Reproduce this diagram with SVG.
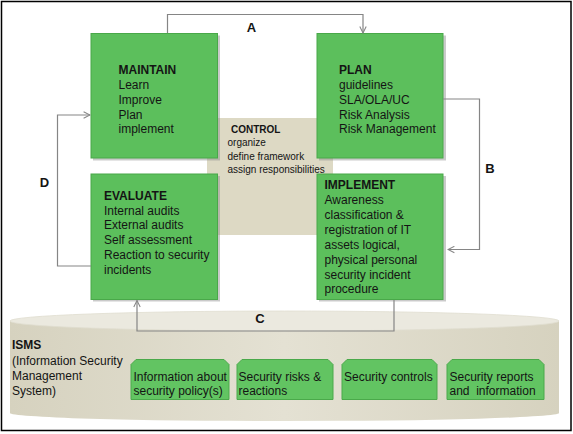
<svg xmlns="http://www.w3.org/2000/svg" width="573" height="434" viewBox="0 0 573 434">
<defs>
<style>
.t{font-family:"Liberation Sans",Arial,sans-serif;font-size:12px;fill:#141414}
.b{font-weight:bold}
.sm{font-size:10px}
.lbl{font-family:"Liberation Sans",Arial,sans-serif;font-size:13px;font-weight:bold;fill:#141414;text-anchor:middle}
.box{fill:#5cbf5c;stroke:#49a849;stroke-width:1}
.shadow{fill:#8a8a8a;opacity:0.45}
.sbox{fill:#62c462;stroke:#4aa94a;stroke-width:1}
.conn{fill:none;stroke:#858585;stroke-width:1.2}
</style>
<marker id="arr" viewBox="0 0 10 10" refX="9" refY="5" markerWidth="8" markerHeight="8" orient="auto" markerUnits="userSpaceOnUse">
<path d="M1,1 L9,5 L1,9" fill="none" stroke="#858585" stroke-width="1.3"/>
</marker>
<linearGradient id="cyl" x1="0" y1="0" x2="1" y2="0">
<stop offset="0" stop-color="#d6d2bf"/>
<stop offset="0.5" stop-color="#e4e1d3"/>
<stop offset="1" stop-color="#d6d2bf"/>
</linearGradient>
</defs>
<rect x="0" y="0" width="573" height="434" fill="#ffffff"/>
<rect x="1.5" y="1.5" width="569.5" height="429" fill="none" stroke="#000" stroke-width="1.5"/>

<g id="isms">
<path d="M10,321 V413 A274.5,8 0 0 0 559,413 V321 Z" fill="url(#cyl)"/>
<ellipse cx="284.5" cy="321" rx="274.5" ry="10" fill="#ebe9df" stroke="#e0ddcf" stroke-width="0.8"/>
<text class="t" x="12" y="349"><tspan class="b">ISMS</tspan></text>
<text class="t" x="12" y="365">(Information Security</text>
<text class="t" x="12" y="380">Management</text>
<text class="t" x="12" y="395">System)</text>
</g>

<g id="control">
<rect x="207" y="118" width="126" height="117" fill="#ddd9c4"/>
<text class="t sm b" x="231" y="132.5">CONTROL</text>
<text class="t sm" x="227.5" y="146">organize</text>
<text class="t sm" x="227.5" y="159.5">define framework</text>
<text class="t sm" x="227.5" y="172.5">assign responsibilities</text>
</g>

<g id="maintain">
<rect class="shadow" x="93" y="35.5" width="127" height="125"/>
<rect class="box" x="91" y="33.5" width="126.5" height="124.5"/>
<text class="t b" x="118.5" y="74">MAINTAIN</text>
<text class="t" x="118.5" y="89">Learn</text>
<text class="t" x="118.5" y="104">Improve</text>
<text class="t" x="118.5" y="118.5">Plan</text>
<text class="t" x="118.5" y="133">implement</text>
</g>

<g id="plan">
<rect class="shadow" x="319" y="35.5" width="127" height="125"/>
<rect class="box" x="317" y="33.5" width="126" height="124.5"/>
<text class="t b" x="339" y="74">PLAN</text>
<text class="t" x="339" y="89">guidelines</text>
<text class="t" x="339" y="104">SLA/OLA/UC</text>
<text class="t" x="339" y="118.5">Risk Analysis</text>
<text class="t" x="339" y="133">Risk Management</text>
</g>

<g id="evaluate">
<rect class="shadow" x="93" y="176" width="127" height="125.5"/>
<rect class="box" x="91" y="174" width="126.5" height="125.5"/>
<text class="t b" x="104" y="199.5">EVALUATE</text>
<text class="t" x="104" y="214.5">Internal audits</text>
<text class="t" x="104" y="229">External audits</text>
<text class="t" x="104" y="244">Self assessment</text>
<text class="t" x="104" y="259">Reaction to security</text>
<text class="t" x="104" y="274">incidents</text>
</g>

<g id="implement">
<rect class="shadow" x="319" y="176" width="127" height="125.5"/>
<rect class="box" x="317" y="174" width="126" height="125.5"/>
<text class="t b" x="324.5" y="189">IMPLEMENT</text>
<text class="t" x="324.5" y="204">Awareness</text>
<text class="t" x="324.5" y="219">classification &amp;</text>
<text class="t" x="324.5" y="234">registration of IT</text>
<text class="t" x="324.5" y="248.5">assets logical,</text>
<text class="t" x="324.5" y="263.5">physical personal</text>
<text class="t" x="324.5" y="278.5">security incident</text>
<text class="t" x="324.5" y="293">procedure</text>
</g>

<g id="info-policy">
<path class="sbox" d="M136,359.5 H224 L229,364.5 V399.5 H131 V364.5 Z"/>
<text class="t" x="133.5" y="381">Information about</text>
<text class="t" x="133.5" y="395">security policy(s)</text>
</g>
<g id="risks">
<path class="sbox" d="M242,359.5 H328 L333,364.5 V399.5 H237 V364.5 Z"/>
<text class="t" x="238.5" y="381">Security risks &amp;</text>
<text class="t" x="238.5" y="395">reactions</text>
</g>
<g id="controls">
<path class="sbox" d="M347,359.5 H432 L437,364.5 V399.5 H342 V364.5 Z"/>
<text class="t" x="344" y="381">Security controls</text>
</g>
<g id="reports">
<path class="sbox" d="M452,359.5 H539 L544,364.5 V399.5 H447 V364.5 Z"/>
<text class="t" x="449.5" y="381">Security reports</text>
<text class="t" x="449.5" y="395" xml:space="preserve">and  information</text>
</g>

<g id="connectors">
<path class="conn" d="M167.5,33 V14.5 H363 V33" marker-end="url(#arr)"/>
<path class="conn" d="M443,99 H479.5 V249.5 H448" marker-end="url(#arr)"/>
<path class="conn" d="M394,300 V331 H137 V300.5" marker-end="url(#arr)"/>
<path class="conn" d="M91,266 H57.5 V115 H90" marker-end="url(#arr)"/>
<text class="lbl" x="251.5" y="32">A</text>
<text class="lbl" x="490" y="172.5">B</text>
<text class="lbl" x="260" y="323">C</text>
<text class="lbl" x="44.5" y="186.5">D</text>
</g>
</svg>
